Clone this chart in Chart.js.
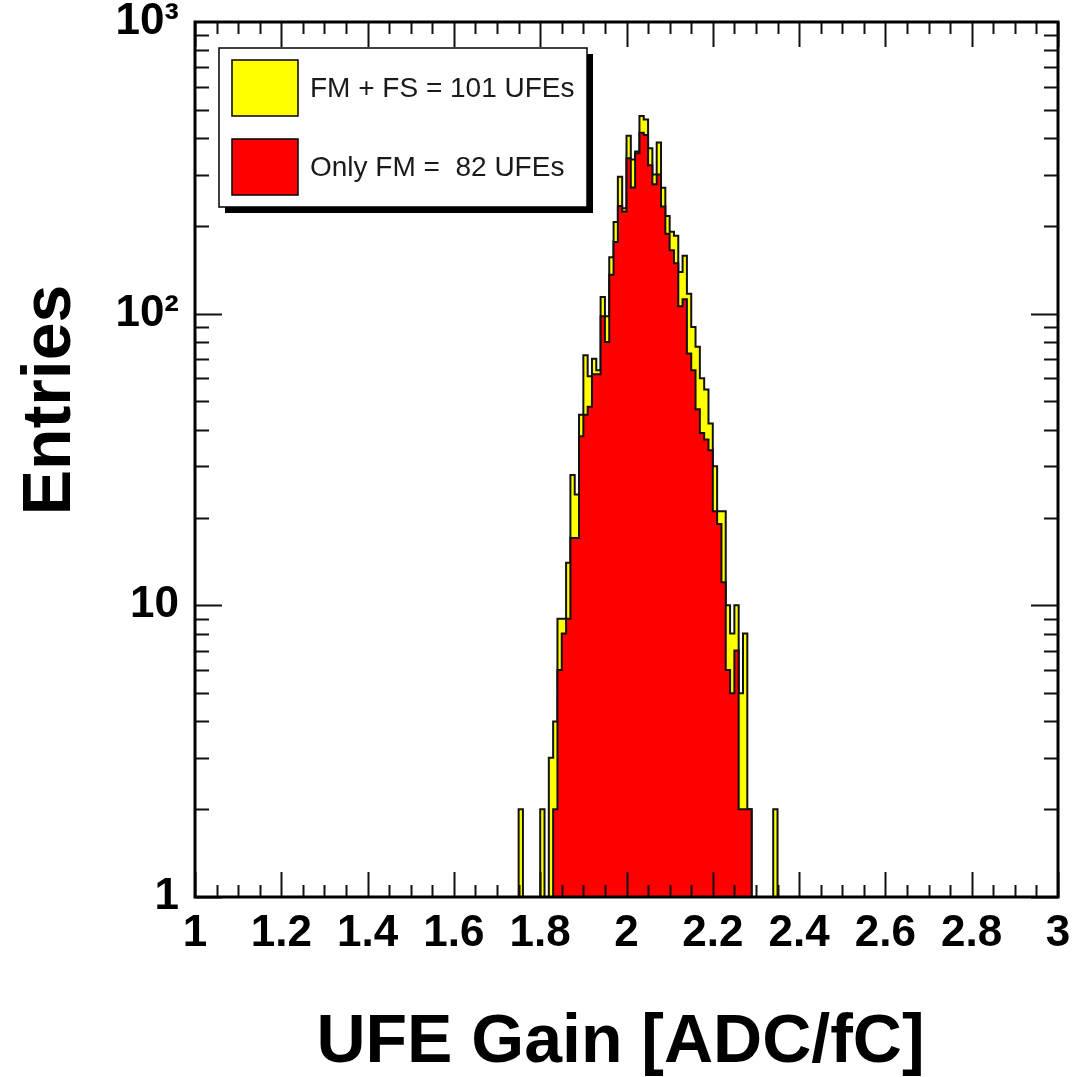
<!DOCTYPE html>
<html>
<head>
<meta charset="utf-8">
<script src="https://cdn.jsdelivr.net/npm/chart.js@4.4.1/dist/chart.umd.min.js"></script>
<style>
  html, body { margin: 0; padding: 0; background: #fff; }
</style>
</head>
<body>
<canvas id="c" width="1073" height="1077"></canvas>
<script>
// histogram bins: 0.01 wide, first bin starts at 1.75 ADC/fC
const binStart = 1.75;
const binWidth = 0.01;

// FM + FS (yellow), one entry per bin from 1.75 to 2.34
const fmPlusFs = [
  2, 0, 0, 0, 0, 2, 0, 3, 4, 9,
  9, 14, 28, 24, 45, 72, 61, 70, 64, 114,
  98, 156, 206, 295, 230, 407, 338, 360, 476, 463,
  369, 300, 386, 270, 216, 191, 185, 139, 158, 117,
  90, 77, 60, 55, 42, 30, 21, 21, 10, 8,
  10, 5, 8, 2, 0, 0, 0, 0, 0, 2
];

// only FM (red)
const onlyFm = [
  0, 0, 0, 0, 0, 0, 0, 0, 2, 6,
  8, 9, 17, 17, 38, 45, 48, 62, 62, 98,
  80, 136, 176, 234, 224, 341, 271, 355, 417, 410,
  323, 278, 300, 233, 188, 165, 149, 106, 112, 73,
  64, 47, 39, 37, 34, 21, 19, 12, 6, 5,
  7, 2, 2, 2, 0, 0, 0, 0, 0, 0
];

const xTicks = [1, 1.2, 1.4, 1.6, 1.8, 2, 2.2, 2.4, 2.6, 2.8, 3];
const xTickLabels = ["1", "1.2", "1.4", "1.6", "1.8", "2", "2.2", "2.4", "2.6", "2.8", "3"];
const yTicks = [1, 10, 100, 1000];
const yTickLabels = ["1", "10", "10\u00b2", "10\u00b3"];
const legendLabels = ["FM + FS = 101 UFEs", "Only FM =  82 UFEs"];
const legendColors = ["#ffff00", "#ff0000"];

const FONT = "'Liberation Sans', Arial, Helvetica, sans-serif";
// empty bins can't sit on a log axis; park them below the frame (clipped)
const EMPTY = 0.1;

function stepPoints(counts) {
  const pts = [{ x: binStart, y: EMPTY }];
  counts.forEach((n, i) => {
    pts.push({ x: Math.round((binStart + i * binWidth) * 100) / 100, y: n > 0 ? n : EMPTY });
  });
  pts.push({ x: Math.round((binStart + counts.length * binWidth) * 100) / 100, y: EMPTY });
  return pts;
}

// ROOT style frame + ticks on all four sides
const frameTicks = {
  id: "frameTicks",
  afterDatasetsDraw(chart) {
    const { ctx, chartArea: a, scales } = chart;
    const xs = scales.x, ys = scales.y;
    ctx.save();
    ctx.strokeStyle = "#111";
    ctx.lineWidth = 2;
    ctx.beginPath();
    for (let k = 0; k <= 40; k++) {
      const v = 1 + k * 0.05;
      const px = Math.round(xs.getPixelForValue(v)) + 0.5;
      const len = k % 4 === 0 ? 25 : 12;
      ctx.moveTo(px, a.bottom); ctx.lineTo(px, a.bottom - len);
      ctx.moveTo(px, a.top); ctx.lineTo(px, a.top + len);
    }
    [1, 10, 100].forEach((d) => {
      for (let m = 1; m <= 9; m++) {
        const py = Math.round(ys.getPixelForValue(m * d)) + 0.5;
        const len = m === 1 ? 27 : 14;
        ctx.moveTo(a.left, py); ctx.lineTo(a.left + len, py);
        ctx.moveTo(a.right, py); ctx.lineTo(a.right - len, py);
      }
    });
    ctx.stroke();
    ctx.lineWidth = 3;
    ctx.strokeStyle = "#000";
    ctx.strokeRect(a.left, a.top, a.right - a.left, a.bottom - a.top);
    ctx.restore();
  }
};

// legend box with drop shadow, and the axis titles
const decorations = {
  id: "decorations",
  afterDraw(chart) {
    const { ctx, chartArea: a } = chart;
    ctx.save();
    const bx = a.left + 24, by = a.top + 26, bw = 368, bh = 159;
    ctx.fillStyle = "#000";
    ctx.fillRect(bx + 6, by + 6, bw, bh);
    ctx.fillStyle = "#fff";
    ctx.fillRect(bx, by, bw, bh);
    ctx.strokeStyle = "#000";
    ctx.lineWidth = 1.5;
    ctx.strokeRect(bx, by, bw, bh);

    legendLabels.forEach((lab, i) => {
      const sy = by + 12 + i * 79;
      ctx.fillStyle = legendColors[i];
      ctx.fillRect(bx + 13, sy, 66, 56);
      ctx.strokeStyle = "#000";
      ctx.lineWidth = 1.5;
      ctx.strokeRect(bx + 13, sy, 66, 56);
      ctx.fillStyle = "#1a1a1a";
      ctx.font = "28px " + FONT;
      ctx.textBaseline = "middle";
      ctx.textAlign = "left";
      ctx.fillText(lab, bx + 91, sy + 29);
    });

    ctx.fillStyle = "#000";
    ctx.font = "bold 68px " + FONT;
    ctx.textAlign = "center";
    ctx.textBaseline = "alphabetic";
    ctx.fillText("UFE Gain [ADC/fC]", (a.left + a.right) / 2 - 6, 1062);

    ctx.translate(70, a.top + 378);
    ctx.rotate(-Math.PI / 2);
    ctx.fillText("Entries", 0, 0);
    ctx.restore();
  }
};

new Chart(document.getElementById("c"), {
  type: "line",
  data: {
    datasets: [
      {
        label: legendLabels[0],
        data: stepPoints(fmPlusFs),
        stepped: true,
        fill: "start",
        backgroundColor: "#ffff00",
        borderColor: "#111",
        borderWidth: 2,
        pointRadius: 0,
        order: 2
      },
      {
        label: legendLabels[1],
        data: stepPoints(onlyFm),
        stepped: true,
        fill: "start",
        backgroundColor: "#ff0000",
        borderColor: "#111",
        borderWidth: 2,
        pointRadius: 0,
        order: 1
      }
    ]
  },
  options: {
    responsive: false,
    animation: false,
    devicePixelRatio: 1,
    layout: { padding: { top: 22, right: 15, left: 0, bottom: 0 } },
    plugins: { legend: { display: false }, tooltip: { enabled: false } },
    scales: {
      x: {
        type: "linear",
        min: 1,
        max: 3,
        grid: { display: false, drawTicks: false },
        border: { display: false },
        afterBuildTicks: (s) => { s.ticks = xTicks.map((v) => ({ value: v })); },
        afterFit: (s) => { s.height = 180; s.paddingLeft = 0; s.paddingRight = 0; },
        ticks: {
          autoSkip: false,
          maxRotation: 0,
          padding: 10,
          color: "#000",
          font: { family: FONT, size: 44, weight: "bold" },
          callback: (v, i) => xTickLabels[i]
        }
      },
      y: {
        type: "logarithmic",
        min: 1,
        max: 1000,
        grid: { display: false, drawTicks: false },
        border: { display: false },
        afterBuildTicks: (s) => { s.ticks = yTicks.map((v) => ({ value: v })); },
        afterFit: (s) => { s.width = 195; s.paddingTop = 0; s.paddingBottom = 0; },
        ticks: {
          autoSkip: false,
          padding: 16,
          color: "#000",
          font: { family: FONT, size: 44, weight: "bold" },
          callback: (v, i) => yTickLabels[i]
        }
      }
    }
  },
  plugins: [frameTicks, decorations]
});
</script>
</body>
</html>
